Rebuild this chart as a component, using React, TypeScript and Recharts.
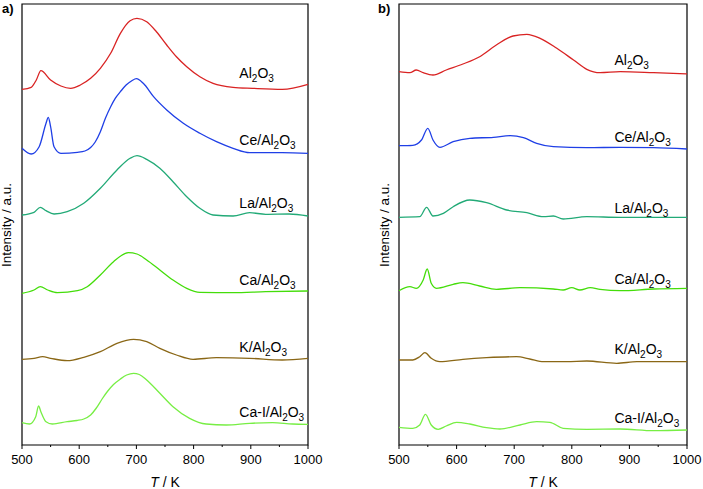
import { Label, Line, LineChart, ReferenceArea, ReferenceDot, XAxis, YAxis } from "recharts";

type Pt = [number, number];

// panel a: intensity traces (stacked, a.u.)
const aAl2O3: Pt[] = [[500, 355.7], [516, 357.7], [525, 365], [533, 374.3], [550, 365], [568, 359], [585, 356.7], [602, 360], [620, 366.7], [637, 376.7], [655, 391.7], [672, 411.7], [689, 424.3], [701, 426.7], [718, 423.3], [735, 413.3], [753, 400], [770, 388.3], [788, 378.3], [811, 368.3], [834, 361.7], [869, 357.7], [903, 356.7], [955, 355.7], [1000, 360.7]];
const aCe: Pt[] = [[500, 296.7], [516, 291], [530, 298.3], [542, 321.7], [546, 327.7], [550, 318.3], [556, 298.3], [568, 291.7], [597, 292.7], [610, 294], [620, 297.5], [628, 303], [637, 313.3], [646, 327], [655, 338.3], [663, 346.7], [672, 353.3], [682, 360], [692, 364.3], [700, 366.3], [712, 361.7], [730, 348.3], [753, 335], [782, 321.7], [811, 311.7], [840, 303.3], [869, 296.7], [898, 292.3], [955, 292.3], [1000, 291.7]];
const aLa: Pt[] = [[500, 230], [521, 232.7], [532, 237.7], [542, 234.3], [556, 231], [579, 233.3], [608, 241.7], [637, 256.7], [666, 275], [689, 286.7], [701, 289.3], [718, 285.7], [741, 276.7], [764, 263.3], [788, 248.3], [811, 236.7], [834, 230], [869, 229], [898, 232.3], [926, 230.7], [967, 231], [1000, 229]];
const aCa: Pt[] = [[500, 151.7], [521, 155], [532, 158.3], [545, 155], [562, 152.3], [597, 154.3], [614, 158.3], [637, 170], [660, 183.3], [686, 192.3], [701, 191], [718, 185], [741, 175], [764, 165], [788, 156.7], [811, 152.7], [869, 152.3], [926, 153.3], [1000, 154]];
const aK: Pt[] = [[500, 85.7], [521, 86.7], [536, 88.3], [550, 86.7], [579, 84.3], [608, 87.7], [637, 93.3], [666, 101.7], [695, 105.7], [718, 103.3], [741, 96.7], [770, 90], [799, 85.7], [840, 87.3], [898, 86.7], [955, 85], [1000, 86.7]];
const aCaI: Pt[] = [[500, 22.3], [513, 21], [524, 28.3], [529, 39], [533, 33.3], [542, 23.3], [553, 21], [579, 23.3], [596, 24.5], [608, 26], [620, 30], [630, 37], [640, 46], [650, 54], [660, 60.5], [672, 66], [683, 70], [695, 71.7], [705, 70.5], [718, 65], [741, 51.7], [764, 38.3], [793, 26.7], [822, 21], [857, 20], [898, 21.7], [938, 22.3], [973, 21], [1000, 20.7]];

// panel b
const bAl2O3: Pt[] = [[500, 373.3], [519, 372.3], [530, 375], [542, 372.3], [559, 370], [582, 375], [611, 381], [640, 388.3], [669, 400], [698, 409], [722, 410.7], [745, 406.7], [774, 396.7], [803, 385], [826, 375.7], [849, 372.3], [884, 373.3], [942, 372.3], [1000, 371]];
const bCe: Pt[] = [[500, 299.3], [524, 299.7], [539, 305], [550, 316.7], [559, 305], [571, 297.7], [594, 303.3], [623, 306.7], [664, 307.7], [693, 309.3], [716, 307.3], [739, 301.7], [768, 298.3], [826, 297.3], [884, 297.7], [942, 297.3], [1000, 296]];
const bLa: Pt[] = [[500, 227.7], [536, 228.3], [548, 237.7], [559, 229], [577, 231.7], [594, 238.3], [623, 245], [652, 242.3], [687, 235], [722, 232.3], [751, 228.3], [768, 229], [785, 226], [826, 228.3], [884, 227.7], [1000, 227.7]];
const bCa: Pt[] = [[500, 154.3], [519, 158.3], [530, 156.7], [542, 165], [549, 176], [556, 161.7], [565, 156.7], [594, 160.7], [611, 162.3], [640, 159], [669, 155.7], [710, 157.3], [768, 156], [785, 155], [800, 157.3], [814, 155], [832, 157.3], [849, 155.7], [884, 154.3], [942, 156], [1000, 156.7]];
const bK: Pt[] = [[500, 85], [524, 85], [536, 88.3], [545, 92.3], [556, 86.7], [571, 83.3], [611, 85.7], [652, 87.3], [704, 88.3], [727, 86], [751, 83.3], [791, 83.3], [826, 84], [878, 81.7], [913, 83.3], [1000, 83.3]];
const bCaI: Pt[] = [[500, 17.7], [524, 16.7], [536, 20], [546, 30.7], [556, 20], [568, 15.7], [582, 19], [600, 22.7], [623, 21], [652, 17.3], [675, 16], [710, 20], [739, 23.3], [762, 22.7], [785, 16.7], [826, 15.7], [884, 16], [942, 14.3], [1000, 15]];

const prefixes = ["", "Ce/", "La/", "Ca/", "K/", "Ca-I/"];
const colors = ["#d92323", "#1f3fe6", "#22aa77", "#44dd0a", "#8a6716", "#77ee44"];
const xTicks = [500, 550, 600, 650, 700, 750, 800, 850, 900, 950, 1000];

// label anchors in data units [T, intensity]
const aLabelPos: Pt[] = [[880, 366.7], [880, 300], [880, 236.7], [880, 160], [880, 93.3], [880, 28.3]];
const bLabelPos: Pt[] = [[874, 380], [874, 303.3], [874, 232.3], [874, 161], [874, 91], [874, 22]];

const font = "'Liberation Sans', Arial, sans-serif";

function toRows(points: Pt[]) {
  return points.map(([t, v]) => ({ t, v }));
}

function AxisTick(props: any) {
  const { x, y, payload } = props;
  const major = payload.value % 100 === 0;
  return (
    <g>
      <line x1={x} x2={x} y1={y} y2={y + (major ? 4 : 2)} stroke="#000" strokeWidth={1} />
      {major && (
        <text x={x} y={y + 19} textAnchor="middle" fontSize={13} fontFamily={font} fill="#000">
          {payload.value}
        </text>
      )}
    </g>
  );
}

function SampleLabel({ cx, cy, prefix }: { cx: number; cy: number; prefix: string }) {
  return (
    <text x={cx} y={cy} fontSize={14} fontFamily={font} fill="#000">
      <tspan>{prefix}Al</tspan>
      <tspan fontSize={10} dy={4}>2</tspan>
      <tspan dy={-4}>O</tspan>
      <tspan fontSize={10} dy={4}>3</tspan>
    </text>
  );
}

function Panel({
  series,
  labelPos,
  letter,
  left,
  width,
  margin,
  letterX,
  yLabelX,
}: {
  series: Pt[][];
  labelPos: Pt[];
  letter: string;
  left: number;
  width: number;
  margin: { top: number; right: number; bottom: number; left: number };
  letterX: number;
  yLabelX: number;
}) {
  return (
    <div style={{ position: "absolute", left, top: 0, width, height: 489 }}>
      <LineChart width={width} height={489} margin={margin}>
        <XAxis
          type="number"
          dataKey="t"
          domain={[500, 1000]}
          ticks={xTicks}
          interval={0}
          height={30}
          axisLine={false}
          tickLine={false}
          tickSize={0}
          tickMargin={0}
          tick={<AxisTick />}
        >
          <Label
            content={({ viewBox }: any) => (
              <text
                x={viewBox.x + viewBox.width / 2}
                y={viewBox.y + 42}
                textAnchor="middle"
                fontSize={14}
                fontFamily={font}
                fill="#000"
              >
                <tspan fontStyle="italic">T</tspan>
                <tspan> / K</tspan>
              </text>
            )}
          />
        </XAxis>
        <YAxis type="number" domain={[0, 441]} hide />
        <ReferenceArea x1={500} x2={1000} y1={0} y2={441} fill="none" stroke="#000" strokeWidth={1.2} ifOverflow="visible" />
        {series.map((pts, i) => (
          <Line
            key={i}
            data={toRows(pts)}
            dataKey="v"
            type="monotone"
            stroke={colors[i]}
            strokeWidth={1.3}
            dot={false}
            isAnimationActive={false}
          />
        ))}
        {labelPos.map(([t, v], i) => (
          <ReferenceDot
            key={"l" + i}
            x={t}
            y={v}
            r={0}
            ifOverflow="visible"
            shape={(p: any) => <SampleLabel cx={p.cx} cy={p.cy} prefix={prefixes[i]} />}
          />
        ))}
      </LineChart>
      <svg width={width} height={489} style={{ position: "absolute", left: 0, top: 0, pointerEvents: "none" }}>
        <text x={letterX} y={12.5} fontSize={13} fontWeight="bold" fontFamily={font} fill="#000">
          {letter}
        </text>
        <text
          transform={`translate(${yLabelX},225) rotate(-90)`}
          textAnchor="middle"
          fontSize={13.5}
          fontFamily={font}
          fill="#000"
        >
          Intensity / a.u.
        </text>
      </svg>
    </div>
  );
}

export default function App() {
  return (
    <div style={{ position: "absolute", left: 0, top: 0, width: 703, height: 489, background: "#fff" }}>
      <Panel
        series={[aAl2O3, aCe, aLa, aCa, aK, aCaI]}
        labelPos={aLabelPos}
        letter="a)"
        left={0}
        width={352}
        margin={{ top: 4, right: 44, bottom: 14, left: 22 }}
        letterX={2}
        yLabelX={11}
      />
      <Panel
        series={[bAl2O3, bCe, bLa, bCa, bK, bCaI]}
        labelPos={bLabelPos}
        letter="b)"
        left={352}
        width={351}
        margin={{ top: 4, right: 16, bottom: 14, left: 47 }}
        letterX={26}
        yLabelX={37}
      />
    </div>
  );
}
